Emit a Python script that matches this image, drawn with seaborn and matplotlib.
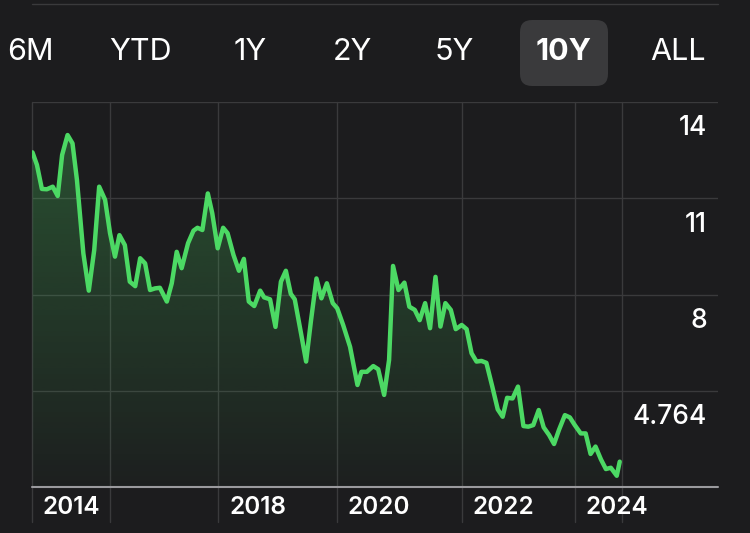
import numpy as np
import pandas as pd
import seaborn as sns
import matplotlib.pyplot as plt
from matplotlib.lines import Line2D
from matplotlib.patches import FancyBboxPatch
from matplotlib.colors import to_rgb

# monthly closes over the 10Y range (month index from start)
months = [0.0, 0.9, 1.9, 2.9, 4.1, 5.1, 6.0, 7.1, 8.1, 9.0, 10.3, 11.4, 12.5, 13.5,
          14.7, 15.7, 16.7, 17.6, 18.7, 19.7, 20.8, 21.8, 22.8, 23.8, 24.8, 25.8,
          27.2, 28.2, 29.2, 30.2, 31.5, 32.6, 33.4, 34.4, 35.5, 36.4, 37.5, 38.6,
          39.5, 40.7, 41.8, 42.8, 43.8, 44.9, 46.1, 46.9, 48.1, 49.2, 50.3, 51.3,
          52.3, 53.1, 54.5, 55.4, 56.4, 57.5, 58.5, 59.6, 60.8, 61.7, 62.9, 64.3,
          65.8, 66.6, 67.7, 69.0, 70.0, 71.2, 72.2, 73.0, 74.1, 75.3, 76.3, 77.4,
          78.4, 79.5, 80.5, 81.6, 82.6, 83.6, 84.7, 85.7, 86.9, 87.9, 88.9, 89.9,
          90.9, 91.9, 93.1, 94.2, 95.2, 96.1, 97.2, 98.3, 99.4, 100.4, 101.4, 102.5,
          103.5, 104.6, 105.6, 106.6, 107.8, 108.8, 109.8, 111.0, 112.0, 113.0,
          114.0, 115.1, 116.1, 117.1, 118.3, 118.9]
values = [12.43, 12.04, 11.29, 11.28, 11.36, 11.07, 12.35, 12.97, 12.71, 11.57, 9.28, 8.12, 9.39, 11.36,
          10.95, 9.91, 9.18, 9.85, 9.54, 8.40, 8.26, 9.13, 8.97, 8.14, 8.19, 8.21,
          7.78, 8.35, 9.33, 8.82, 9.60, 9.99, 10.08, 10.01, 11.15, 10.53, 9.44, 10.08,
          9.91, 9.23, 8.74, 9.11, 7.78, 7.64, 8.12, 7.91, 7.85, 6.99, 8.40, 8.74,
          8.02, 7.85, 6.68, 5.91, 7.20, 8.50, 7.88, 8.35, 7.73, 7.57, 7.05, 6.37,
          5.18, 5.59, 5.59, 5.77, 5.67, 4.87, 5.96, 8.89, 8.14, 8.37, 7.62, 7.52,
          7.20, 7.73, 6.95, 8.55, 7.00, 7.73, 7.52, 6.92, 7.05, 6.92, 6.17, 5.91,
          5.93, 5.87, 5.13, 4.42, 4.19, 4.78, 4.76, 5.13, 3.90, 3.88, 3.93, 4.40,
          3.86, 3.62, 3.34, 3.78, 4.24, 4.17, 3.93, 3.67, 3.67, 3.03,
          3.26, 2.86, 2.56, 2.60, 2.35, 2.79]

tabs = ['6M', 'YTD', '1Y', '2Y', '5Y', '10Y', 'ALL']
active_tab = '10Y'
y_grid = [14, 11, 8, 5]
y_labels = ['14', '11', '8', '4.764']
year_labels = ['2014', '2018', '2020', '2022', '2024']
year_grid = [-0.1, 37.6, 61.6, 86.9, 109.8]
extra_grid = [15.7, 119.3]

df = pd.DataFrame({'month': months, 'price': values})

bg = '#1c1c1e'
grid_c = '#3a3a3c'
green = '#4cd964'

sns.set_theme(style='dark', rc={'figure.facecolor': bg, 'axes.facecolor': bg,
                                'savefig.facecolor': bg})
plt.rcParams['font.family'] = ['Inter', 'DejaVu Sans']

fig = plt.figure(figsize=(7.5, 5.33), dpi=100)
ax = fig.add_axes([32 / 750, 46 / 533, 686 / 750, 385 / 533])
ax.set_xlim(-0.1, 138.8)
ax.set_ylim(2, 14)

# gradient fill under the line
poly = ax.fill_between(df['month'], df['price'], 2, facecolor='none', linewidth=0)
rgb = to_rgb(green)
grad = np.zeros((256, 1, 4))
grad[:, 0, :3] = rgb
grad[:, 0, 3] = np.linspace(0.02, 0.30, 256)
im = ax.imshow(grad, extent=[-0.1, 138.8, 2, 14], aspect='auto', origin='lower', zorder=1)
im.set_clip_path(poly.get_paths()[0], transform=ax.transData)

sns.lineplot(data=df, x='month', y='price', ax=ax, color=green, linewidth=3.2, zorder=3)

# grid
for v in y_grid:
    ax.axhline(v, color=grid_c, lw=1, zorder=0)
ax.axhline(2, color='#9a9a9e', lw=1.5, zorder=2, clip_on=False)
for xv in year_grid + extra_grid:
    ax.plot([xv, xv], [1, -0.091], transform=ax.get_xaxis_transform(),
            color=grid_c, lw=1, clip_on=False, zorder=0)

for v, lab in zip(y_grid, y_labels):
    ax.text(0.984, v - 0.82, lab, transform=ax.get_yaxis_transform(), ha='right',
            va='center', color='white', fontsize=19, fontweight='medium')
for xv, lab in zip(year_grid, year_labels):
    ax.text(xv + 2.2, -0.052, lab, transform=ax.get_xaxis_transform(), ha='left',
            va='center', color='white', fontsize=17.5, fontweight='semibold')

ax.set_xlabel('')
ax.set_ylabel('')
ax.set_xticks([])
ax.set_yticks([])
for s in ax.spines.values():
    s.set_visible(False)

# range selector
fig.add_artist(Line2D([32 / 750, 718 / 750], [1 - 4 / 533] * 2, color=grid_c, lw=1))
tab_x = [30, 140, 250, 352, 454, 564, 678]
box = FancyBboxPatch((5.20, 4.47), 0.88, 0.66, boxstyle='round,pad=0,rounding_size=0.12',
                     transform=fig.dpi_scale_trans, facecolor='#3a3a3c', edgecolor='none')
fig.add_artist(box)
for t, x in zip(tabs, tab_x):
    fig.text(x / 750, 1 - 52 / 533, t, ha='center', va='center', color='white',
             fontsize=22, fontweight='bold' if t == active_tab else 'normal')

fig.savefig('out.png', dpi=100)
